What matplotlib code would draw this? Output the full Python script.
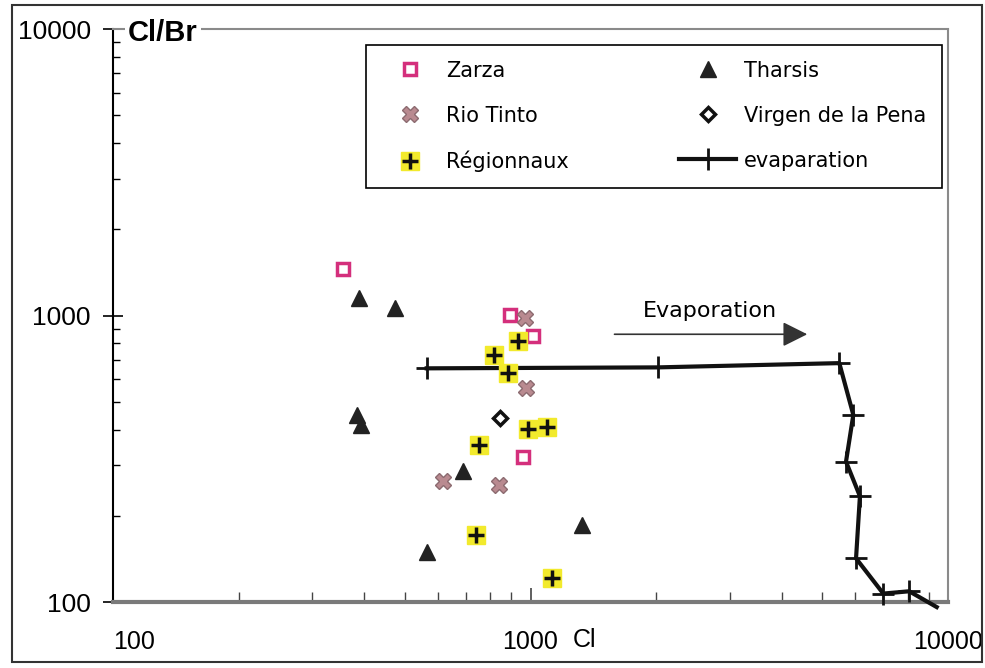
import matplotlib.pyplot as plt
import matplotlib.ticker as mticker
from matplotlib.patches import Rectangle

# Cl (x) and Cl/Br (y) for each group of waters
zarza_cl = [355, 893, 1016, 957]
zarza_clbr = [1449, 1004, 850, 321]

tharsis_cl = [389, 473, 384, 392, 688, 564, 1328]
tharsis_clbr = [1153, 1060, 450, 415, 286, 150, 186]

riotinto_cl = [970, 975, 616, 841]
riotinto_clbr = [978, 557, 265, 256]

virgen_cl = [845]
virgen_clbr = [440]

region_cl = [931, 818, 885, 988, 1094, 753, 740, 1128]
region_clbr = [817, 728, 631, 401, 409, 353, 171, 121]

# seawater evaporation path
evap_cl = [564, 2017, 5491, 5932, 5698, 6152, 6022, 6998, 8073, 9397]
evap_clbr = [654, 659, 682, 450, 309, 234, 142, 107, 109, 96]

ticks = [100, 1000, 10000]
tick_labels = ['100', '1000', '10000']

fig = plt.figure(figsize=(9.85, 6.68), dpi=100)
ax = fig.add_axes([113/985, 1-602/668, (948-113)/985, (602-29)/668])

ax.set_xscale('log')
ax.set_yscale('log')
ax.set_xlim(100, 10000)
ax.set_ylim(100, 10000)

lf = 'DejaVu Sans'

z, = ax.plot(zarza_cl, zarza_clbr, ls='none', marker='s', ms=8, mfc='white',
             mec='#d42f7c', mew=2.5, zorder=5)
t, = ax.plot(tharsis_cl, tharsis_clbr, ls='none', marker='^', ms=12,
             color='#222222', zorder=5)
r, = ax.plot(riotinto_cl, riotinto_clbr, ls='none', marker='X', ms=12,
             mfc='#b98a90', mec='#8c6b70', mew=1, zorder=5)
v, = ax.plot(virgen_cl, virgen_clbr, ls='none', marker='D', ms=7, mfc='white',
             mec='#111111', mew=2.5, zorder=5)
rs, = ax.plot(region_cl, region_clbr, ls='none', marker='s', ms=13,
              color='#f2ea2c', zorder=5)
rp, = ax.plot(region_cl, region_clbr, ls='none', marker='+', ms=12,
              mec='#111111', mew=2.5, zorder=6)
e, = ax.plot(evap_cl, evap_clbr, color='#111111', lw=3, marker='+', ms=16,
             mew=2, markevery=list(range(len(evap_cl) - 1)), clip_on=False, zorder=4)

# direction arrow
ax.annotate('', xy=(4672, 860), xytext=(1565, 860),
            arrowprops=dict(arrowstyle='-|>', color='#333333', lw=1.2,
                            mutation_scale=38))
ax.text(2692, 1037, 'Evaporation', fontsize=16, family=lf, ha='center', va='center')

ax.legend([z, r, (rs, rp), t, v, e],
          ['Zarza', 'Rio Tinto', 'Régionnaux', 'Tharsis', 'Virgen de la Pena', 'evaparation'],
          ncol=2, loc='upper left', bbox_to_anchor=(366/985, 1-45/668),
          bbox_transform=fig.transFigure, prop={'family': lf, 'size': 15},
          frameon=True, fancybox=False, edgecolor='black', framealpha=1,
          handlelength=2.7, handletextpad=0.4, columnspacing=5.3,
          labelspacing=1.2, borderpad=0.75, borderaxespad=0)
ax.get_legend().get_frame().set_linewidth(1.2)

# axes frame
ax.spines['left'].set_color('black')
ax.spines['left'].set_linewidth(1.5)
ax.spines['bottom'].set_color('#7a7a7a')
ax.spines['bottom'].set_linewidth(3)
for s in ['top', 'right']:
    ax.spines[s].set_color('#8a8a8a')
    ax.spines[s].set_linewidth(1.5)
    ax.spines[s].set_linestyle((0, (2, 1)))

ax.set_xticks(ticks)
ax.set_yticks(ticks)
ax.set_xticklabels(tick_labels, family='Liberation Sans', fontsize=18)
ax.set_yticklabels(tick_labels, family='Liberation Sans', fontsize=19)
ax.xaxis.set_minor_formatter(mticker.NullFormatter())
ax.yaxis.set_minor_formatter(mticker.NullFormatter())
ax.xaxis.get_ticklabels()[0].set_horizontalalignment('left')

ax.tick_params(axis='x', which='major', direction='in', length=10, width=1.2, pad=20, color='#444444')
ax.tick_params(axis='x', which='minor', direction='in', length=7, width=1, color='#444444')
ax.tick_params(axis='y', which='major', direction='inout', length=14, width=1.2, pad=9)
ax.tick_params(axis='y', which='minor', direction='in', length=5, width=1)

fig.text(128/985, 1-33/668, 'Cl/Br', family='Liberation Sans', fontweight='bold',
         fontsize=21, ha='left', va='center',
         bbox=dict(facecolor='white', edgecolor='none', pad=2), zorder=10)
fig.text(585/985, 1-640/668, 'Cl', family='Liberation Sans', fontsize=18,
         ha='center', va='center')

# outer border
fig.patches.append(Rectangle((12/985, 1-662/668), 970/985, 657/668,
                             transform=fig.transFigure, fill=False,
                             edgecolor='#333333', lw=1.5))

fig.savefig('out.png', dpi=100)
